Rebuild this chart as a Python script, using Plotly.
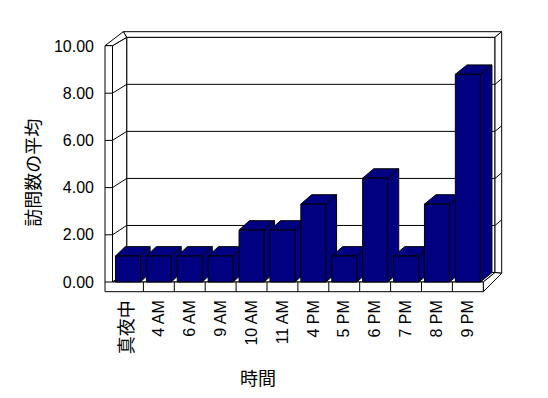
import plotly.graph_objects as go

# ---------------- data ----------------
categories = ["真夜中", "4 AM", "6 AM", "9 AM", "10 AM", "11 AM",
              "4 PM", "5 PM", "6 PM", "7 PM", "8 PM", "9 PM"]
values = [1.1, 1.1, 1.1, 1.1, 2.2, 2.2, 3.3, 1.1, 4.4, 1.1, 3.3, 8.8]
y_ticks = [0, 2, 4, 6, 8, 10]
y_tick_labels = ["0.00", "2.00", "4.00", "6.00", "8.00", "10.00"]
x_title = "時間"
y_title = "訪問数の平均"

# ---------------- geometry (pixels) ----------------
W, H = 548, 398
L, R, T, B = 100, 510, 25, 296          # plot area
X0, CW, Y0, UY = 112.5, 30.9, 282.0, 23.6   # front plane mapping


def XD(px):
    return (px - X0) / CW - 0.5


def YD(py):
    return (Y0 - py) / UY


def PY(v):
    return Y0 - UY * v


def BY(v):  # back-wall plane
    return 272.5 - 23.52 * v


def path(pts, close=True):
    s = "M " + " L ".join(f"{XD(x):.5f},{YD(y):.5f}" for x, y in pts)
    return s + (" Z" if close else "")


NAVY = "#000080"
LINE = dict(color="black", width=1)

fig = go.Figure()
shapes = []


def poly(pts, fill="white", close=True):
    shapes.append(dict(type="path", path=path(pts, close), xref="x", yref="y",
                       fillcolor=fill if close else None, line=LINE, layer="below"))


# walls and floor
poly([(126.7, 37.3), (495, 37.3), (495, 272.5), (126.7, 272.5)])                 # back wall
poly([(123.3, 31.7), (501.7, 31.7), (495, 37.3), (126.7, 37.3)])                 # back wall top
poly([(495, 37.3), (501.7, 31.7), (501.7, 273.3), (495, 272.5)])                 # back wall right strip
poly([(112.5, 45.7), (126.7, 37.3), (126.7, 272.5), (112.5, 282)])               # left wall inner
poly([(105, 45.7), (123.3, 31.7), (126.7, 37.3), (112.5, 45.7)])                 # left wall top
poly([(112.5, 282), (483.3, 282), (495, 272.5), (126.7, 272.5)])                 # floor top
poly([(483.3, 282), (483.3, 291.7), (501.7, 273.3), (495, 272.5)])               # floor right
poly([(105, 45.7), (112.5, 45.7), (112.5, 282), (483.3, 282),
      (483.3, 291.7), (105, 291.7)])                                             # front L face
# category dividers on floor front
for k in range(1, len(categories)):
    x = X0 + CW * k
    poly([(x, 282), (x, 291.7)], close=False)
# gridlines
for v in y_ticks[1:-1]:
    poly([(105, PY(v)), (112.5, PY(v)), (126.7, BY(v)), (495, BY(v)),
          (501.7, BY(v) - 5.6)], close=False)
poly([(105, PY(0)), (112.5, PY(0))], close=False)

# ---------------- bars (3D columns) ----------------
hw = 12.5 / CW
for i, v in enumerate(values):
    ddx = (9.7 + 1.9 * i / (len(values) - 1)) / CW
    ddy = 9.4 / UY
    xl, xr = i - hw, i + hw
    faces = [
        [(xr, 0), (xr + ddx, ddy), (xr + ddx, v + ddy), (xr, v)],          # side
        [(xl, v), (xr, v), (xr + ddx, v + ddy), (xl + ddx, v + ddy)],      # top
        [(xl, 0), (xr, 0), (xr, v), (xl, v)],                              # front
    ]
    for f in faces:
        f = f + [f[0]]
        fig.add_trace(go.Scatter(
            x=[p[0] for p in f], y=[p[1] for p in f], mode="lines",
            fill="toself", fillcolor=NAVY, line=LINE,
            hoverinfo="skip", showlegend=False))

FONT = "Liberation Sans, Arial, Noto Sans CJK JP"
CJK = "Noto Sans CJK JP"

ticktext = [f'<span style="font-family:{CJK};font-size:18px">{c}</span>' if i == 0 else c
            for i, c in enumerate(categories)]

fig.update_layout(
    width=W, height=H,
    margin=dict(l=L, r=W - R, t=T, b=H - B, pad=0),
    paper_bgcolor="white", plot_bgcolor="white",
    font=dict(family=FONT, size=16, color="black"),
    shapes=shapes,
    showlegend=False,
    xaxis=dict(range=[XD(L), XD(R)], showgrid=False, zeroline=False, showline=False,
               tickmode="array", tickvals=list(range(len(categories))), ticktext=ticktext,
               tickangle=-90, ticks="", fixedrange=True),
    yaxis=dict(range=[YD(B), YD(T)], showgrid=False, zeroline=False, showline=False,
               tickmode="array", tickvals=y_ticks, ticktext=y_tick_labels,
               ticks="", ticklabelstandoff=5, fixedrange=True),
    annotations=[
        dict(text=x_title, xref="paper", yref="paper",
             x=(258 - L) / (R - L), y=(B - 377) / (B - T),
             showarrow=False, xanchor="center", yanchor="middle",
             font=dict(family=CJK, size=18, color="black")),
        dict(text=y_title, xref="paper", yref="paper",
             x=(31.7 - L) / (R - L), y=(B - 173) / (B - T), textangle=-90,
             showarrow=False, xanchor="center", yanchor="middle",
             font=dict(family=CJK, size=18, color="black")),
    ],
)

fig.write_html("out.html")
